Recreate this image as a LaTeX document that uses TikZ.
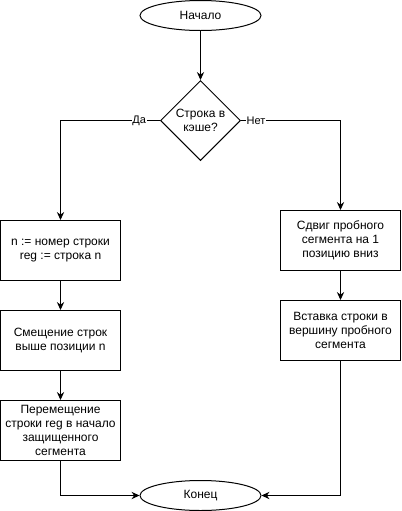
\documentclass[tikz,border=0pt]{standalone}
\usepackage{fontspec}
\setmainfont{Liberation Sans}
\usetikzlibrary{shapes.geometric,arrows.meta}
\begin{document}
\begin{tikzpicture}[x=0.75pt,y=-0.75pt,
  base/.style={draw=black,line width=0.75pt,align=center,inner sep=1pt,font=\fontsize{9pt}{10.5pt}\selectfont},
  term/.style={base,ellipse,minimum width=90.75pt,minimum height=22.5pt},
  proc/.style={base,rectangle,minimum width=90pt,minimum height=45pt},
  dec/.style={base,diamond,minimum width=60pt,minimum height=60pt,inner sep=0pt},
  arr/.style={draw=black,line width=0.75pt,-{Stealth[length=6pt,width=5.5pt,inset=2pt]}},
  con/.style={draw=black,line width=0.75pt},
  lbl/.style={fill=white,inner sep=0.5pt,font=\fontsize{8.25pt}{9pt}\selectfont}]
\useasboundingbox (0,0) rectangle (401,511);
\node[term] (start) at (200.5,15.5) {Начало};
\node[dec] (dec) at (200.5,120.5) {Строка в\\кэше?};
\node[proc] (b1) at (60.5,250.5) {n := номер строки\\reg := строка n};
\node[proc] (b2) at (60.5,340.5) {Смещение строк\\выше позиции n};
\node[proc] (b3) at (60.5,430.5) {Перемещение\\строки reg в начало\\защищенного\\сегмента};
\node[proc] (b4) at (340.5,240.5) {Сдвиг пробного\\сегмента на 1\\позицию вниз};
\node[proc] (b5) at (340.5,330.5) {Вставка строки в\\вершину пробного\\сегмента};
\node[term] (end) at (200.5,495.5) {Конец};
\draw[arr] (start) -- (dec);
\draw[arr] (dec.west) -| node[lbl,pos=0.105] {Да} (b1.north);
\draw[arr] (dec.east) -| node[lbl,pos=0.075] {Нет} (b4.north);
\draw[arr] (b1) -- (b2);
\draw[arr] (b2) -- (b3);
\draw[arr] (b4) -- (b5);
\draw[arr] (b3.south) |- (end.west);
\draw[arr] (b5.south) |- (end.east);
\end{tikzpicture}
\end{document}
